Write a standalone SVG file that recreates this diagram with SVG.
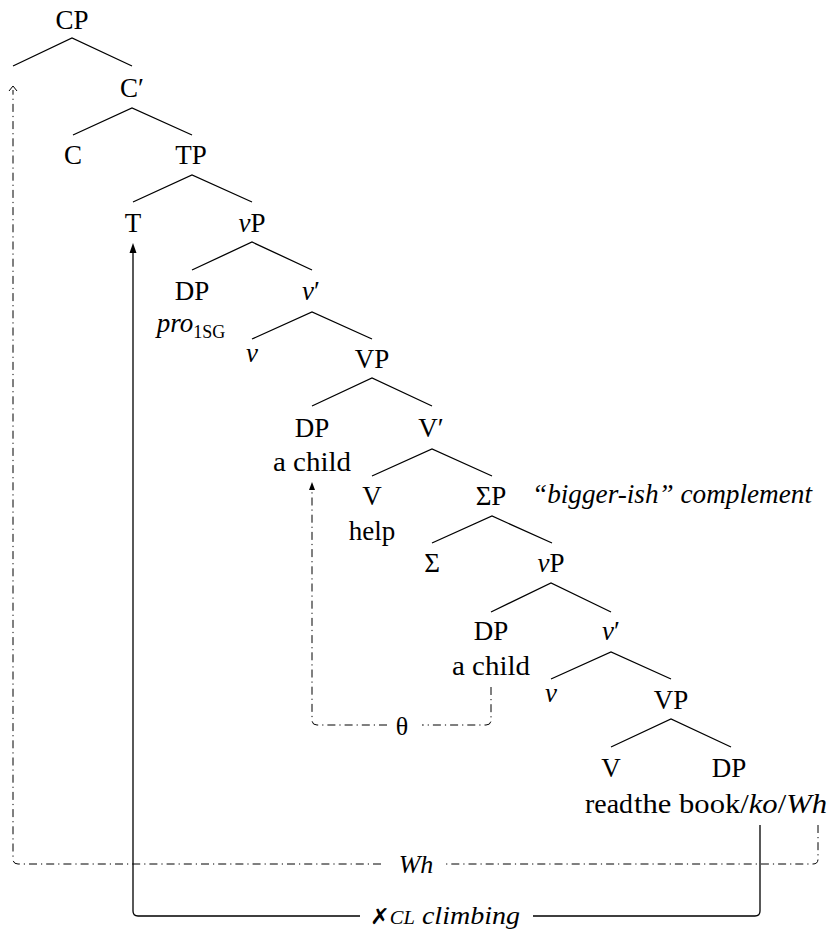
<svg xmlns="http://www.w3.org/2000/svg" width="830" height="933" viewBox="0 0 830 933">
<style>
text{font-family:'Liberation Serif','Times New Roman','DejaVu Serif',serif;font-size:27px;fill:#000;text-anchor:middle}
.i{font-style:italic}
.br{fill:none;stroke:#000;stroke-width:1.3}
.dd{fill:none;stroke:#000;stroke-width:1;stroke-dasharray:8 4 1.2 4}
.sl{fill:none;stroke:#000;stroke-width:1.3}
.lab{font-size:26px}
.sym{font-family:'DejaVu Sans',sans-serif;font-weight:bold;font-size:22px}
</style>
<rect width="830" height="933" fill="#fff"/>
<g id="branches">
<path class="br" d="M13,66 L72,38 L132,66"/>
<path class="br" d="M73,135 L132,108 L192,135"/>
<path class="br" d="M133,202 L192,175 L252,202"/>
<path class="br" d="M192,270 L252,242 L312,270"/>
<path class="br" d="M252,339 L312,312 L372,339"/>
<path class="br" d="M312,406 L372,378 L432,406"/>
<path class="br" d="M372,476 L432,449 L492,476"/>
<path class="br" d="M432,543 L492,516 L552,543"/>
<path class="br" d="M491,612 L551,583 L611,612"/>
<path class="br" d="M551,679 L611,652 L671,679"/>
<path class="br" d="M611,747 L671,719 L731,747"/>
</g>
<g font-family="Liberation Serif, serif">
<g id="n-CP"><text x="72" y="29">CP</text></g>
<g id="n-Cbar"><text x="132" y="97">C′</text></g>
<g id="n-C"><text x="73" y="164">C</text></g>
<g id="n-TP"><text x="191" y="164">TP</text></g>
<g id="n-T"><text x="133" y="232">T</text></g>
<g id="n-vP1"><text x="252" y="232"><tspan class="i">v</tspan>P</text></g>
<g id="n-DP1"><text x="192" y="300">DP</text><text x="191" y="332"><tspan class="i">pro</tspan><tspan font-size="18" dy="6">1SG</tspan></text></g>
<g id="n-vbar1"><text x="311" y="300"><tspan class="i">v</tspan>′</text></g>
<g id="n-v1"><text class="i" x="252" y="362">v</text></g>
<g id="n-VP1"><text x="372" y="368">VP</text></g>
<g id="n-DP2"><text x="312" y="437">DP</text><text x="312" y="471" textLength="78" lengthAdjust="spacingAndGlyphs">a child</text></g>
<g id="n-Vbar"><text x="431" y="437">V′</text></g>
<g id="n-V1"><text x="372" y="505">V</text><text x="372" y="540">help</text></g>
<g id="n-SigmaP"><text x="491" y="505">ΣP</text></g>
<g id="n-note"><text class="i" x="532" y="503" style="text-anchor:start" textLength="280" lengthAdjust="spacingAndGlyphs">“bigger-ish” complement</text></g>
<g id="n-Sigma"><text x="432" y="572">Σ</text></g>
<g id="n-vP2"><text x="551" y="572"><tspan class="i">v</tspan>P</text></g>
<g id="n-DP3"><text x="491" y="640">DP</text><text x="491" y="675" textLength="78" lengthAdjust="spacingAndGlyphs">a child</text></g>
<g id="n-vbar2"><text x="611" y="640"><tspan class="i">v</tspan>′</text></g>
<g id="n-v2"><text class="i" x="551" y="702">v</text></g>
<g id="n-VP2"><text x="671" y="709">VP</text></g>
<g id="n-V2"><text x="611" y="777">V</text><text x="633" y="813" style="text-anchor:end" textLength="48" lengthAdjust="spacingAndGlyphs">read</text></g>
<g id="n-DP4"><text x="729" y="777">DP</text><text x="634" y="813" style="text-anchor:start" textLength="193" lengthAdjust="spacingAndGlyphs">the book/<tspan class="i">ko</tspan>/<tspan class="i">Wh</tspan></text></g>
</g>
<g id="connectors">
<path class="dd" d="M818,825 V859 Q818,864 813,864 H445"/>
<path class="dd" d="M381,864 H18 Q13,864 13,859 V90"/>
<path fill="none" stroke="#000" stroke-width="1" d="M9,91 L13,86 L17,91"/>
<text class="i lab" x="416" y="873">Wh</text>
<path class="dd" d="M491,687 V720 Q491,725 486,725 H422"/>
<path class="dd" d="M387,725 H317 Q312,725 312,720 V489"/>
<path d="M312,482 L315,490 L309,490 Z" fill="#000"/>
<text class="lab" x="402" y="735">θ</text>
<path class="sl" d="M760,825 V911 Q760,916 755,916 H533"/>
<path class="sl" d="M360,916 H138 Q133,916 133,911 V251"/>
<path d="M133,243 L136.5,253 L129.5,253 Z" fill="#000"/>
<text class="lab" x="370" y="924" style="text-anchor:start" textLength="150" lengthAdjust="spacingAndGlyphs"><tspan class="sym">✗</tspan><tspan class="i" font-size="19">CL</tspan><tspan class="i"> climbing</tspan></text>
</g>
</svg>
